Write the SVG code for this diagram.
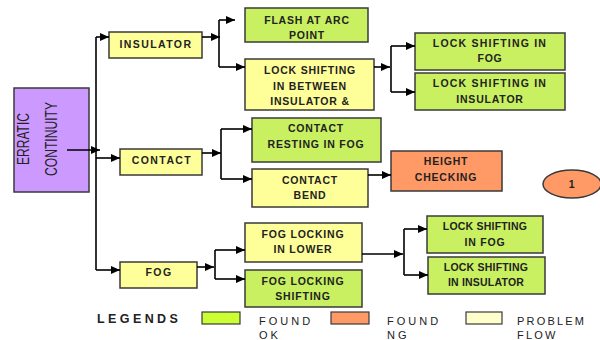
<svg xmlns="http://www.w3.org/2000/svg" width="600" height="340" viewBox="0 0 600 340">
<style>
.box{stroke:#3a3a3a;stroke-width:1.5}
.g{fill:#c8f060}.y{fill:#ffff99}.o{fill:#ff9966}.p{fill:#cc99ff}
.t{font-family:"Liberation Sans",Arial,sans-serif;font-weight:bold;font-size:10.5px;fill:#222;text-anchor:middle;letter-spacing:0.8px}
.c{stroke:#000;stroke-width:1.6;fill:none}
.lg{font-family:"Liberation Sans",Arial,sans-serif;font-size:11px;fill:#222;letter-spacing:3px}
.v{font-family:"Liberation Sans",Arial,sans-serif;font-size:17px;fill:#222;text-anchor:middle}
</style>
<defs>
<marker id="ah" markerUnits="userSpaceOnUse" markerWidth="9" markerHeight="8" refX="9" refY="4" orient="auto">
<path d="M0,0 L9,4 L0,8 z" fill="#000"/>
</marker>
</defs>
<rect width="600" height="340" fill="#fff"/>

<g id="erratic">
<rect class="box p" x="14" y="88" width="75" height="104"/>
<text class="v" transform="translate(29,139) rotate(-90)" textLength="52" lengthAdjust="spacingAndGlyphs">ERRATIC</text>
<text class="v" transform="translate(57,139) rotate(-90)" textLength="74" lengthAdjust="spacingAndGlyphs">CONTINUITY</text>
</g>

<g id="insulator">
<rect class="box y" x="109" y="32" width="93" height="26"/>
<text class="t" x="156" y="48" style="letter-spacing:1.4px">INSULATOR</text>
</g>
<g id="contact">
<rect class="box y" x="120" y="149" width="82" height="26"/>
<text class="t" x="162" y="164" style="letter-spacing:1.4px">CONTACT</text>
</g>
<g id="fog">
<rect class="box y" x="120" y="262" width="77" height="26"/>
<text class="t" x="159" y="276" style="letter-spacing:1.4px">FOG</text>
</g>

<g id="flash">
<rect class="box g" x="245" y="8" width="123" height="34"/>
<text class="t" x="307" y="24">FLASH AT ARC</text>
<text class="t" x="307" y="39">POINT</text>
</g>
<g id="lockbetween">
<rect class="box y" x="245" y="59" width="129" height="51"/>
<text class="t" x="310" y="74">LOCK SHIFTING</text>
<text class="t" x="310" y="90">IN BETWEEN</text>
<text class="t" x="310" y="105">INSULATOR &amp;</text>
</g>
<g id="lockfog1">
<rect class="box g" x="415" y="33" width="150" height="37"/>
<text class="t" x="490" y="47" style="letter-spacing:1.2px">LOCK SHIFTING IN</text>
<text class="t" x="490" y="62">FOG</text>
</g>
<g id="lockins1">
<rect class="box g" x="415" y="73" width="150" height="37"/>
<text class="t" x="490" y="87" style="letter-spacing:1.2px">LOCK SHIFTING IN</text>
<text class="t" x="490" y="103">INSULATOR</text>
</g>
<g id="contactresting">
<rect class="box g" x="252" y="118" width="129" height="44"/>
<text class="t" x="316" y="132">CONTACT</text>
<text class="t" x="316" y="148">RESTING IN FOG</text>
</g>
<g id="contactbend">
<rect class="box y" x="252" y="169" width="116" height="38"/>
<text class="t" x="310" y="184">CONTACT</text>
<text class="t" x="310" y="199">BEND</text>
</g>
<g id="height">
<rect class="box o" x="391" y="151" width="111" height="40"/>
<text class="t" x="446" y="165">HEIGHT</text>
<text class="t" x="446" y="181">CHECKING</text>
</g>
<g id="one">
<ellipse class="box o" cx="572" cy="184" rx="29" ry="14"/>
<text class="t" x="572" y="188">1</text>
</g>
<g id="foglower">
<rect class="box y" x="245" y="223" width="117" height="39"/>
<text class="t" x="303" y="238">FOG LOCKING</text>
<text class="t" x="303" y="253">IN LOWER</text>
</g>
<g id="fogshift">
<rect class="box g" x="245" y="270" width="117" height="37"/>
<text class="t" x="303" y="285">FOG LOCKING</text>
<text class="t" x="303" y="300">SHIFTING</text>
</g>
<g id="lockfog2">
<rect class="box g" x="427" y="216" width="116" height="37"/>
<text class="t" x="485" y="230" style="letter-spacing:0.2px">LOCK SHIFTING</text>
<text class="t" x="485" y="246">IN FOG</text>
</g>
<g id="lockins2">
<rect class="box g" x="428" y="257" width="117" height="37"/>
<text class="t" x="486" y="271" style="letter-spacing:0.2px">LOCK SHIFTING</text>
<text class="t" x="486" y="286" style="letter-spacing:0.2px">IN INSULATOR</text>
</g>

<g id="connectors">
<path class="c" d="M67,150 L100,150" marker-end="url(#ah)" stroke-width="2"/>
<path class="c" d="M96,37 L96,270"/>
<path class="c" d="M96,37 L109,37" marker-end="url(#ah)"/>
<path class="c" d="M96,158 L120,158" marker-end="url(#ah)"/>
<path class="c" d="M96,270 L120,270" marker-end="url(#ah)"/>
<path class="c" d="M202,37 L220,37" marker-end="url(#ah)"/>
<path class="c" d="M219,20 L219,67"/>
<path class="c" d="M219,20 L235,20" marker-end="url(#ah)"/>
<path class="c" d="M219,67 L245,67" marker-end="url(#ah)"/>
<path class="c" d="M374,67 L390,67" marker-end="url(#ah)"/>
<path class="c" d="M391,46 L391,92"/>
<path class="c" d="M391,46 L415,46" marker-end="url(#ah)"/>
<path class="c" d="M391,92 L415,92" marker-end="url(#ah)"/>
<path class="c" d="M202,153 L221,153" marker-end="url(#ah)"/>
<path class="c" d="M221,129 L221,179"/>
<path class="c" d="M221,129 L252,129" marker-end="url(#ah)"/>
<path class="c" d="M221,179 L252,179" marker-end="url(#ah)"/>
<path class="c" d="M368,175 L391,175" marker-end="url(#ah)"/>
<path class="c" d="M197,267 L214,267" marker-end="url(#ah)"/>
<path class="c" d="M215,250 L215,279"/>
<path class="c" d="M215,250 L245,250" marker-end="url(#ah)"/>
<path class="c" d="M215,279 L245,279" marker-end="url(#ah)"/>
<path class="c" d="M362,254 L403,254" marker-end="url(#ah)" stroke-width="2.6"/>
<path class="c" d="M404,229 L404,275"/>
<path class="c" d="M404,229 L427,229" marker-end="url(#ah)"/>
<path class="c" d="M404,275 L428,275" marker-end="url(#ah)"/>
</g>

<g id="legend">
<text x="97" y="323" font-family="Liberation Sans,Arial,sans-serif" font-weight="bold" font-size="12.5" letter-spacing="3.4" fill="#222">LEGENDS</text>
<rect x="202" y="312" width="38" height="12" fill="#ccff33" stroke="#3a3a3a" stroke-width="1.2"/>
<text class="lg" x="259" y="325">FOUND</text>
<text class="lg" x="259" y="339">OK</text>
<rect x="331" y="312" width="38" height="12" fill="#ff9966" stroke="#3a3a3a" stroke-width="1.2"/>
<text class="lg" x="387" y="325">FOUND</text>
<text class="lg" x="387" y="339">NG</text>
<rect x="466" y="312" width="36" height="12" fill="#ffffcc" stroke="#3a3a3a" stroke-width="1.2"/>
<text class="lg" x="517" y="325" style="letter-spacing:2.2px">PROBLEM</text>
<text class="lg" x="517" y="339" style="letter-spacing:2.2px">FLOW</text>
</g>
</svg>
